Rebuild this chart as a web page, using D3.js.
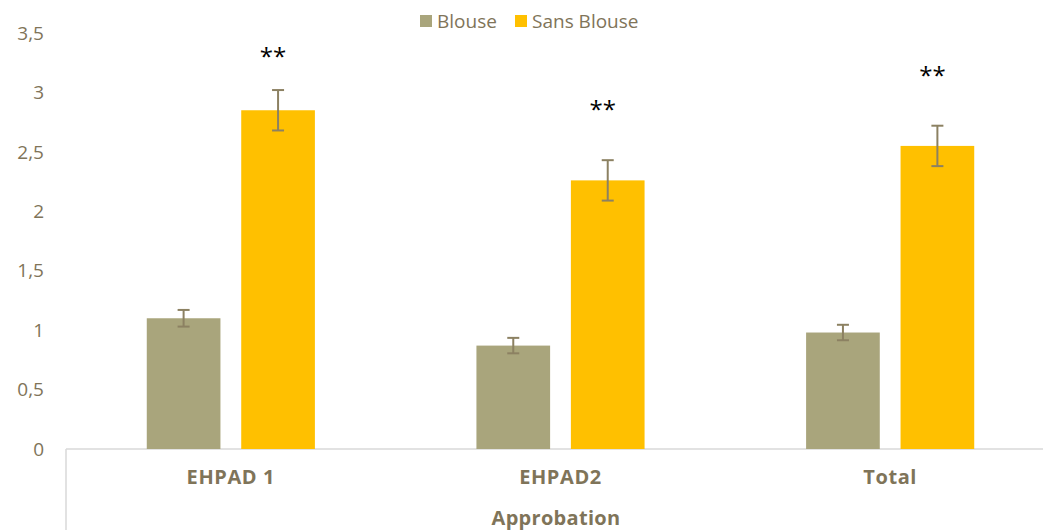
<!DOCTYPE html>
<html><head><meta charset="utf-8">
<script src="https://cdn.jsdelivr.net/npm/d3@7"></script>
<style>body{margin:0;background:#fff}svg{display:block}</style>
</head><body><svg id="c" width="1043" height="530"></svg>
<script>
const categories = ["EHPAD 1", "EHPAD2", "Total"];
const seriesNames = ["Blouse", "Sans Blouse"];
const blouse = [1.10, 0.87, 0.98];
const sansBlouse = [2.85, 2.26, 2.55];
const blouseErr = [0.07, 0.065, 0.065];
const sansErr = [0.17, 0.17, 0.17];
const sigLabels = ["**", "**", "**"];
const sigY = [3.315, 2.873, 3.163];
const yTicks = [0, 0.5, 1, 1.5, 2, 2.5, 3, 3.5];
const axisTitle = "Approbation";

const colors = ["#A9A57C", "#FFC000"];
const txt = "#7F7459";
const font = "'Open Sans', 'DejaVu Sans', sans-serif";

const svg = d3.select("#c");
const mLeft = 66, mRight = 1055, mTop = 33, mBottom = 449;
const y = d3.scaleLinear().domain([0, 3.5]).range([mBottom, mTop]);
const x0 = d3.scaleBand().domain(categories).range([mLeft, mRight]).paddingInner(0.49).paddingOuter(0.245);
const x1 = d3.scaleBand().domain(seriesNames).range([0, x0.bandwidth()]).paddingInner(0.22);

// y tick labels
svg.append("g").selectAll("text").data(yTicks).join("text")
  .attr("x", 44).attr("y", d => y(d)).attr("dy", "0.35em")
  .attr("text-anchor", "end").attr("fill", txt)
  .style("font-family", font).style("font-size", "19px")
  .text(d => String(d).replace(".", ","));

// axis lines
svg.append("line").attr("x1", mLeft).attr("x2", 1043).attr("y1", y(0)).attr("y2", y(0))
  .attr("stroke", "#D9D9D9").attr("stroke-width", 1.5);
svg.append("line").attr("x1", mLeft).attr("x2", mLeft).attr("y1", y(0)).attr("y2", 530)
  .attr("stroke", "#D9D9D9").attr("stroke-width", 1.5);

const data = categories.map((c, i) => ({
  cat: c,
  vals: [
    {s: seriesNames[0], v: blouse[i], e: blouseErr[i], c: colors[0]},
    {s: seriesNames[1], v: sansBlouse[i], e: sansErr[i], c: colors[1]}
  ]
}));

const g = svg.append("g").selectAll("g").data(data).join("g")
  .attr("transform", d => `translate(${x0(d.cat)},0)`);
g.selectAll("rect").data(d => d.vals).join("rect")
  .attr("x", d => x1(d.s)).attr("width", x1.bandwidth())
  .attr("y", d => y(d.v)).attr("height", d => y(0) - y(d.v))
  .attr("fill", d => d.c);

const eb = g.selectAll("g.eb").data(d => d.vals).join("g").attr("class", "eb")
  .attr("stroke", "#8C8162").attr("stroke-width", 2);
const cx = d => x1(d.s) + x1.bandwidth() / 2;
eb.append("line").attr("x1", cx).attr("x2", cx)
  .attr("y1", d => y(d.v + d.e)).attr("y2", d => y(d.v - d.e));
eb.append("line").attr("x1", d => cx(d) - 6).attr("x2", d => cx(d) + 6)
  .attr("y1", d => y(d.v + d.e)).attr("y2", d => y(d.v + d.e));
eb.append("line").attr("x1", d => cx(d) - 6).attr("x2", d => cx(d) + 6)
  .attr("y1", d => y(d.v - d.e)).attr("y2", d => y(d.v - d.e));

// significance stars
svg.append("g").selectAll("text").data(categories).join("text")
  .attr("x", (d, i) => x0(d) + x1(seriesNames[1]) + x1.bandwidth() / 2 - 5)
  .attr("y", (d, i) => y(sigY[i])).attr("dy", 10.5)
  .attr("text-anchor", "middle").attr("fill", "#000")
  .style("font-family", font).style("font-size", "24px")
  .text((d, i) => sigLabels[i]);

// category labels
svg.append("g").selectAll("text").data(categories).join("text")
  .attr("x", d => x0(d) + x0.bandwidth() / 2).attr("y", 477).attr("dy", "0.35em")
  .attr("text-anchor", "middle").attr("fill", txt)
  .style("font-family", font).style("font-size", "20px").style("font-weight", "bold")
  .style("letter-spacing", "0.6px")
  .text(d => d);

svg.append("text").attr("x", 556).attr("y", 518).attr("dy", "0.35em")
  .attr("text-anchor", "middle").attr("fill", txt)
  .style("font-family", font).style("font-size", "20px").style("font-weight", "bold")
  .style("letter-spacing", "0.3px")
  .text(axisTitle);

// legend
const lg = svg.append("g");
const legX = [420, 515];
seriesNames.forEach((s, i) => {
  lg.append("rect").attr("x", legX[i]).attr("y", 15).attr("width", 12).attr("height", 12).attr("fill", colors[i]);
  lg.append("text").attr("x", legX[i] + 17).attr("y", 21).attr("dy", "0.35em")
    .attr("fill", txt).style("font-family", font).style("font-size", "19px").text(s);
});
</script></body></html>
